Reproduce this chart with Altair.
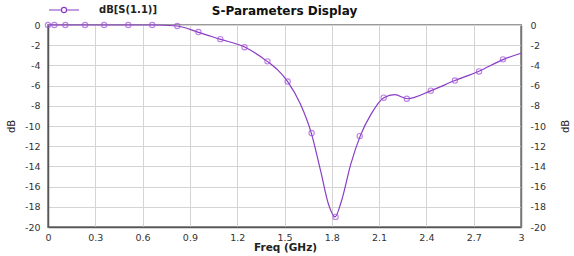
import altair as alt
import pandas as pd

series_name = "dB[S(1.1)]"

# smooth response curve
curve_freq = [0.0, 0.3, 0.66, 0.82, 0.95, 1.09, 1.25, 1.39, 1.46, 1.52, 1.60, 1.67,
              1.73, 1.78, 1.82, 1.86, 1.92, 1.98, 2.05, 2.13, 2.20, 2.28, 2.43,
              2.58, 2.73, 2.89, 3.0]
curve_db = [0.0, 0.0, 0.0, -0.1, -0.7, -1.4, -2.2, -3.6, -4.5, -5.6, -7.8, -10.7,
            -14.5, -17.8, -19.0, -17.5, -13.8, -11.0, -8.8, -7.2, -6.9, -7.3, -6.5,
            -5.5, -4.6, -3.4, -2.8]

# marker positions
marker_freq = [0.0, 0.04, 0.11, 0.235, 0.356, 0.509, 0.661, 0.82, 0.954, 1.093, 1.246,
               1.392, 1.52, 1.672, 1.824, 1.977, 2.129, 2.276, 2.428, 2.581, 2.734, 2.886]
marker_db = [0.0, 0.0, 0.0, 0.0, 0.0, 0.0, 0.0, -0.1, -0.7, -1.4, -2.2,
             -3.6, -5.6, -10.7, -19.0, -11.0, -7.2, -7.3, -6.5, -5.5, -4.6, -3.4]

x_ticks = [0, 0.3, 0.6, 0.9, 1.2, 1.5, 1.8, 2.1, 2.4, 2.7, 3]
y_ticks = [0, -2, -4, -6, -8, -10, -12, -14, -16, -18, -20]

curve_df = pd.DataFrame({"freq": curve_freq, "dB": curve_db, "series": series_name})
marker_df = pd.DataFrame({"freq": marker_freq, "dB": marker_db, "series": series_name})

LINE = "#8a3cc4"
MARK = "#a050dc"
FONT = "DejaVu Sans"

xenc = alt.X("freq:Q", scale=alt.Scale(domain=[0, 3], nice=False, zero=False),
             axis=alt.Axis(values=x_ticks, format=".1~f", title="Freq (GHz)",
                           titleFontWeight="bold", titleFontSize=10.5, titleFont=FONT,
                           titleColor="#222", titlePadding=1, titleX=237, titleAnchor="middle",
                           labelFontSize=9.5, labelFont=FONT, labelColor="#333",
                           labelPadding=5, ticks=False, domainColor="#555", domainWidth=1.5,
                           gridColor="#d4d4d4", gridWidth=1, labelFlush=False))
yscale = alt.Scale(domain=[-20, 0], nice=False, zero=False)
yenc = alt.Y("dB:Q", scale=yscale,
             axis=alt.Axis(values=y_ticks, labelExpr="toString(datum.value)", title="dB",
                           titleFontWeight="normal", titleFontSize=10, titleFont=FONT,
                           titleColor="#222", titlePadding=8,
                           labelFontSize=9.5, labelFont=FONT, labelColor="#333",
                           labelPadding=8, ticks=False, domainColor="#555", domainWidth=1.5,
                           gridColor="#d4d4d4", gridWidth=1))
ynoaxis = alt.Y("dB:Q", scale=yscale, axis=None)

legend_symbol = ("M-1,0 L-0.17,0 M0.17,0 L1,0 "
                 "M-0.17,0 A0.17,0.17 0 1,0 0.17,0 A0.17,0.17 0 1,0 -0.17,0")

line = alt.Chart(curve_df).mark_line(interpolate="monotone", strokeWidth=1.2).encode(
    x=xenc, y=yenc,
    color=alt.Color("series:N", scale=alt.Scale(range=[LINE]),
                    legend=alt.Legend(title=None, orient="none", legendX=0, legendY=-31,
                                      symbolType=legend_symbol, symbolSize=900,
                                      symbolStrokeWidth=1.2, labelFont=FONT,
                                      labelFontSize=10, labelFontWeight="bold",
                                      labelColor="#222", labelOffset=19, padding=0)))

points = alt.Chart(marker_df).mark_point(shape="circle", filled=False, size=28,
                                         strokeWidth=1.1, color=MARK).encode(x=xenc, y=ynoaxis)

right = alt.Chart(marker_df).mark_point(opacity=0).encode(
    x=xenc,
    y=alt.Y("dB:Q", scale=yscale,
            axis=alt.Axis(orient="right", values=y_ticks, labelExpr="toString(datum.value)",
                          title="dB", titleFontWeight="normal", titleFontSize=10,
                          titleFont=FONT, titleColor="#222", titleX=44, titleY=101,
                          titleAngle=270, titleBaseline="middle", titleAlign="center",
                          labelFontSize=9.5, labelFont=FONT, labelColor="#333",
                          labelPadding=9, ticks=False, grid=False,
                          domainColor="#777", domainWidth=1.5)))

chart = alt.layer(line, points, right).resolve_axis(y="independent").properties(
    width=473, height=202,
    title=alt.TitleParams("S-Parameters Display", font=FONT, fontSize=12,
                          fontWeight="bold", color="#111", anchor="middle", offset=-24),
    autosize=alt.AutoSizeParams(type="none"),
    padding={"left": 48, "top": 25, "right": 53, "bottom": 29},
).configure_view(stroke="#999", strokeWidth=2)

chart.save("out.html", embed_options={"renderer": "svg", "actions": False})
